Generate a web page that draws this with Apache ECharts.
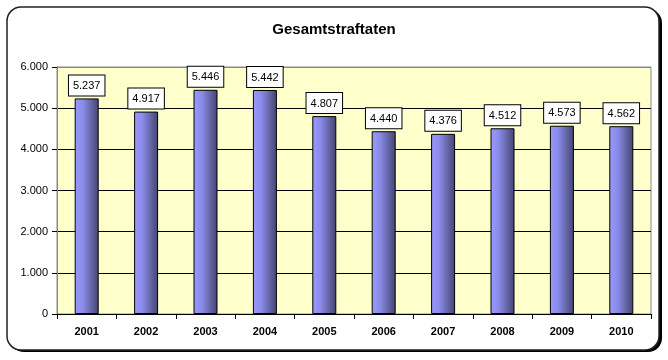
<!DOCTYPE html>
<html><head><meta charset="utf-8">
<script src="https://cdn.jsdelivr.net/npm/echarts@6/dist/echarts.min.js"></script>
<style>html,body{margin:0;padding:0;background:#fff}#c{width:668px;height:360px}</style>
</head><body><div id="c"></div>
<script>
const categories = ['2001','2002','2003','2004','2005','2006','2007','2008','2009','2010'];
const values = [5237, 4917, 5446, 5442, 4807, 4440, 4376, 4512, 4573, 4562];
const yTicks = [0, 1000, 2000, 3000, 4000, 5000, 6000];
const titleText = 'Gesamtstraftaten';

function fmt(v){ return v >= 1000 ? Math.floor(v/1000) + '.' + String(v%1000).padStart(3,'0') : String(v); }

const chart = echarts.init(document.getElementById('c'));
chart.setOption({
  animation: false,
  backgroundColor: '#fff',
  title: { text: titleText, left: 'center', top: 17,
    textStyle: { fontFamily: 'Liberation Sans, Arial', fontSize: 15, fontWeight: 'bold', color: '#000' } },
  graphic: [
    { type: 'rect', z: -10, shape: { x: 10, y: 9, width: 652, height: 343, r: 14 },
      style: { fill: '#000' } },
    { type: 'rect', z: -9, shape: { x: 7, y: 7, width: 652, height: 343, r: 14 },
      style: { fill: '#fff', stroke: '#222', lineWidth: 1.5 } }
  ],
  grid: { left: 57, right: 17, top: 67, bottom: 46, show: true, backgroundColor: '#ffffcc',
    borderColor: '#888', borderWidth: 1 },
  xAxis: { type: 'category', data: categories,
    axisLine: { lineStyle: { color: '#000', width: 1 } },
    axisTick: { show: true, alignWithLabel: false, length: 5, lineStyle: { color: '#000' } },
    axisLabel: { fontFamily: 'Liberation Sans, Arial', fontSize: 11, fontWeight: 'bold', color: '#000', margin: 12 } },
  yAxis: { type: 'value', min: 0, max: 6000, interval: 1000,
    axisLine: { show: true, lineStyle: { color: '#888' } },
    axisTick: { show: true, length: 5, lineStyle: { color: '#000' } },
    splitLine: { lineStyle: { color: ['#000','#000','#000','#000','#000','#000','#888'], width: 1 } },
    axisLabel: { fontFamily: 'Liberation Sans, Arial', fontSize: 11, color: '#000', margin: 9,
      formatter: v => yTicks.includes(v) ? fmt(v) : '' } },
  series: [{
    type: 'bar', data: values, barWidth: 24,
    itemStyle: {
      color: new echarts.graphic.LinearGradient(0, 0, 1, 0, [
        { offset: 0, color: '#9a9aff' },
        { offset: 0.35, color: '#8a8ae8' },
        { offset: 1, color: '#44446e' }
      ]),
      borderColor: '#000', borderWidth: 1
    },
    label: { show: true, position: 'top', distance: 3, formatter: p => fmt(p.value),
      fontFamily: 'Liberation Sans, Arial', fontSize: 11, color: '#000',
      backgroundColor: '#fff', borderColor: '#000', borderWidth: 1, padding: [5, 4, 4, 4] }
  }]
});
</script></body></html>
